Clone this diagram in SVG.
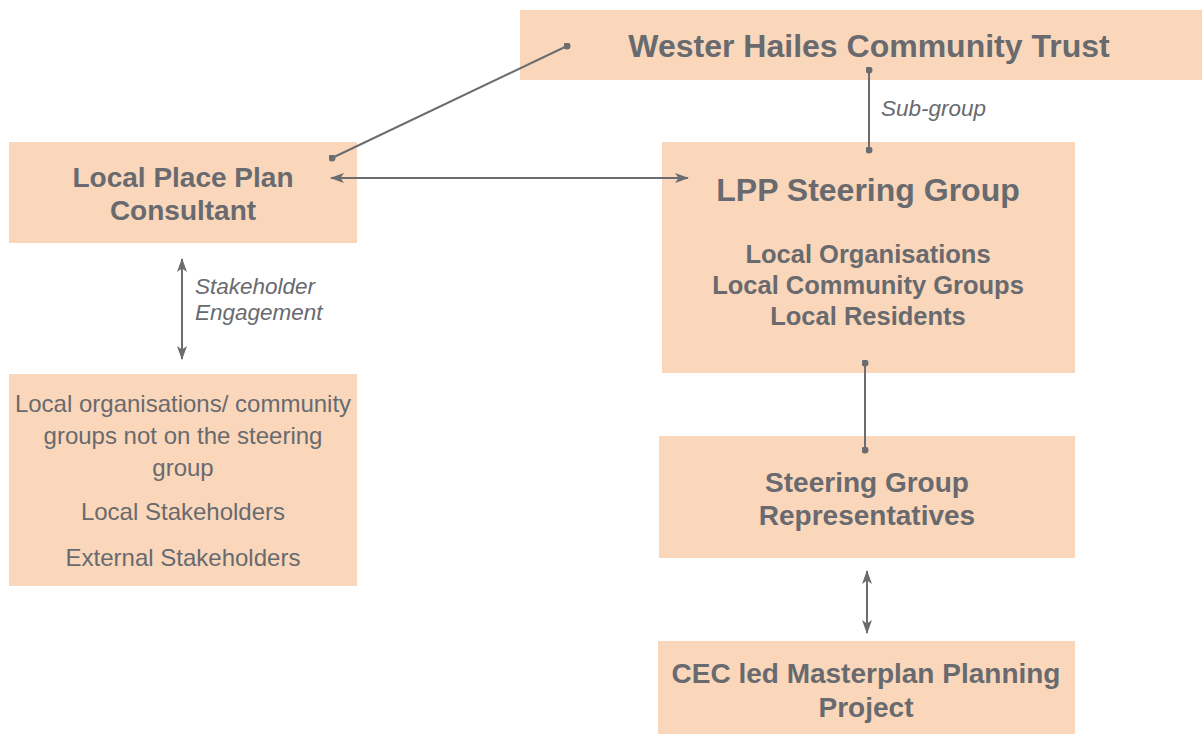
<svg xmlns="http://www.w3.org/2000/svg" width="1202" height="734" viewBox="0 0 1202 734">
<defs>
<style>
.box{fill:#FAD7BA}
.t{font-family:"Liberation Sans",Arial,sans-serif;fill:#686A6F;text-anchor:middle}
.b{font-weight:bold}
.lbl{font-family:"Liberation Sans",Arial,sans-serif;fill:#686A6F;font-style:italic;font-size:22.5px}
.ln{stroke:#6B6C70;stroke-width:2;fill:none}
</style>
<marker id="ah" viewBox="0 0 14 10" refX="13" refY="5" markerWidth="14" markerHeight="10" markerUnits="userSpaceOnUse" orient="auto-start-reverse">
<path d="M0,0 L14,5 L0,10 L3.5,5 Z" fill="#6B6C70"/>
</marker>
<marker id="dot" viewBox="0 0 10 10" refX="5" refY="5" markerWidth="7" markerHeight="7" markerUnits="userSpaceOnUse">
<circle cx="5" cy="5" r="5" fill="#6B6C70"/>
</marker>
</defs>
<rect width="1202" height="734" fill="#ffffff"/>
<g id="wester-hailes">
<rect class="box" x="520" y="10" width="682" height="70"/>
<text class="t b" x="869" y="57" font-size="32">Wester Hailes Community Trust</text>
</g>
<g id="consultant">
<rect class="box" x="9" y="142" width="348" height="101"/>
<text class="t b" x="183" y="187" font-size="28">Local Place Plan</text>
<text class="t b" x="183" y="220" font-size="28">Consultant</text>
</g>
<g id="steering-group">
<rect class="box" x="662" y="142" width="413" height="231"/>
<text class="t b" x="868" y="201" font-size="32">LPP Steering Group</text>
<text class="t b" x="868" y="263" font-size="25.5">Local Organisations</text>
<text class="t b" x="868" y="294" font-size="25.5">Local Community Groups</text>
<text class="t b" x="868" y="325" font-size="25.5">Local Residents</text>
</g>
<g id="stakeholders">
<rect class="box" x="9" y="374" width="348" height="212"/>
<text class="t" x="183" y="412" font-size="24">Local organisations/ community</text>
<text class="t" x="183" y="444" font-size="24">groups not on the steering</text>
<text class="t" x="183" y="476" font-size="24">group</text>
<text class="t" x="183" y="520" font-size="24">Local Stakeholders</text>
<text class="t" x="183" y="566" font-size="24">External Stakeholders</text>
</g>
<g id="representatives">
<rect class="box" x="659" y="436" width="416" height="122"/>
<text class="t b" x="867" y="492" font-size="28">Steering Group</text>
<text class="t b" x="867" y="525" font-size="28">Representatives</text>
</g>
<g id="cec">
<rect class="box" x="658" y="641" width="417" height="93"/>
<text class="t b" x="866" y="683" font-size="28">CEC led Masterplan Planning</text>
<text class="t b" x="866" y="717" font-size="28">Project</text>
</g>
<g id="connectors">
<line class="ln" x1="332" y1="158" x2="567" y2="46" marker-start="url(#dot)" marker-end="url(#dot)"/>
<line class="ln" x1="331" y1="178" x2="688" y2="178" marker-start="url(#ah)" marker-end="url(#ah)"/>
<line class="ln" x1="869" y1="70" x2="869" y2="150" marker-start="url(#dot)" marker-end="url(#dot)"/>
<text class="lbl" x="881" y="116">Sub-group</text>
<line class="ln" x1="865" y1="363" x2="865" y2="450" marker-start="url(#dot)" marker-end="url(#dot)"/>
<line class="ln" x1="182" y1="259" x2="182" y2="359" marker-start="url(#ah)" marker-end="url(#ah)"/>
<text class="lbl" x="195" y="294">Stakeholder</text>
<text class="lbl" x="195" y="320">Engagement</text>
<line class="ln" x1="867" y1="571" x2="867" y2="633" marker-start="url(#ah)" marker-end="url(#ah)"/>
</g>
</svg>
